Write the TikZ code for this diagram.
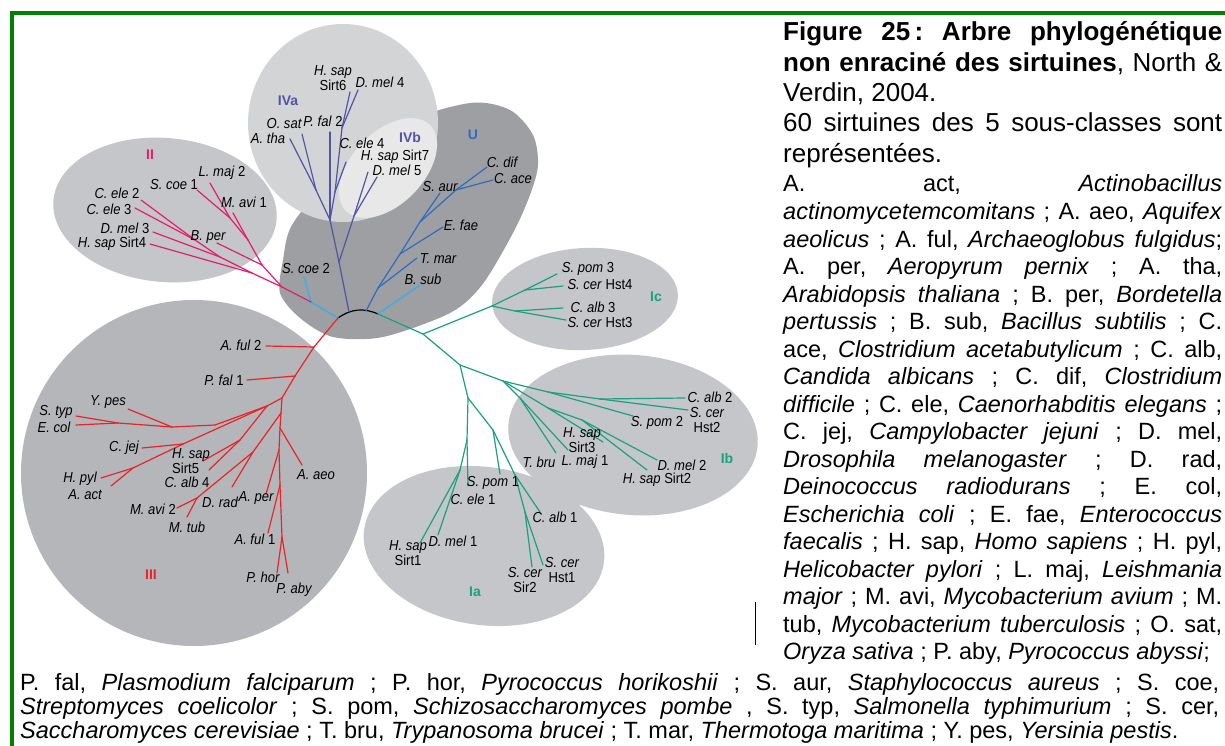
\documentclass[tikz,border=0pt]{standalone}
\usepackage{fontspec}
\setmainfont{Liberation Sans}
\newfontfamily\treefont[FakeStretch=0.9]{Liberation Sans}
\usetikzlibrary{positioning}
\definecolor{framegreen}{RGB}{0,128,0}
\definecolor{cII}{RGB}{226,30,110}
\definecolor{cIII}{RGB}{232,36,40}
\definecolor{cIV}{RGB}{84,84,164}
\definecolor{cU}{RGB}{48,108,190}
\definecolor{cUc}{RGB}{70,172,222}
\definecolor{cI}{RGB}{28,160,128}
\definecolor{gI}{RGB}{197,198,201}
\definecolor{gIII}{RGB}{181,182,186}
\definecolor{gU}{RGB}{158,159,163}
\definecolor{gIVa}{RGB}{211,212,214}
\definecolor{gIVb}{RGB}{232,232,233}
\newcommand\tightjust{\tolerance=10000\relax\hbadness=10000\relax\hyphenpenalty=10000\relax\frenchspacing}
\newcommand\fulljust{\parfillskip=0pt\relax}
\tikzset{
  br/.style={line width=1.2pt, line cap=round},
  IIbr/.style={br, color=cII},
  IIIbr/.style={br, color=cIII},
  IVbr/.style={br, color=cIV},
  Ubr/.style={br, color=cU},
  Ucbr/.style={br, color=cUc, line width=1.6pt},
  Ibr/.style={br, color=cI},
  leaf/.style={font=\treefont\fontsize{14.5}{14.5}\selectfont\itshape, inner sep=0pt, align=center},
  grp/.style={font=\fontsize{14}{14}\selectfont\bfseries, inner sep=0pt},
  caption/.style={inner sep=0pt, anchor=base west, align=justify}
}
\begin{document}
\begin{tikzpicture}[x=1pt,y=-1pt]
\useasboundingbox (0,0) rectangle (1225,746);
\fill[white] (0,0) rectangle (1225,746);
% frame
\fill[framegreen] (9.5,11.5) rectangle (1225,15.5);
\fill[framegreen] (9.5,11.5) rectangle (13.5,746);

% subclass blobs
\fill[gU] plot[smooth cycle] coordinates {(280,293) (283,260) (292,225) (330,180) (400,125) (470,103) (510,110) (533,135) (538,165) (530,195) (513,233) (482,285) (450,313) (383,337) (333,337) (300,318)};
\fill[gIII] (194,473) circle[radius=173];
\fill[gI, rotate around={-5:(165,210)}] (165,210) ellipse[x radius=112, y radius=72];
\fill[gI, rotate around={3:(585,299)}] (585,299) ellipse[x radius=93, y radius=51];
\fill[gI, rotate around={-5:(633,435)}] (633,435) ellipse[x radius=125, y radius=80];
\fill[gI, rotate around={-8:(484,546)}] (484,546) ellipse[x radius=121, y radius=79];
\fill[gIVa] (343,123) ellipse[x radius=95, y radius=99];
\fill[gIVb, rotate around={46:(388,168)}] (388,168) ellipse[x radius=60, y radius=36];

% branch points
\coordinate (rL) at (338,318);
\coordinate (rM1) at (349,312);
\coordinate (rM2) at (366,311);
\coordinate (rR) at (378,314);
\coordinate (s0) at (311,302);
\coordinate (m1) at (282,287);
\coordinate (m2) at (252,273);
\coordinate (m3) at (220,257);
\coordinate (m4) at (195,240);
\coordinate (m5) at (262,265);
\coordinate (m6) at (248,240);
\coordinate (m7) at (230,218);
\coordinate (a1) at (314,347);
\coordinate (a2) at (295,376);
\coordinate (a3) at (282,398);
\coordinate (b1) at (267,406);
\coordinate (b2) at (215,425);
\coordinate (b3) at (172,427);
\coordinate (b4) at (118,423);
\coordinate (c1) at (183,444);
\coordinate (c2) at (133,468);
\coordinate (d1) at (240,440);
\coordinate (e0) at (281,413);
\coordinate (f1) at (253,452);
\coordinate (f2) at (197,498);
\coordinate (g1) at (280,428);
\coordinate (g2) at (279,450);
\coordinate (g3) at (280,485);
\coordinate (g4) at (282,537);
\coordinate (p1) at (339,262);
\coordinate (p2) at (354,216);
\coordinate (p3) at (330,220);
\coordinate (p5) at (316,190);
\coordinate (p6) at (335,192);
\coordinate (p7) at (342,128);
\coordinate (u1) at (378,288);
\coordinate (u2) at (400,254);
\coordinate (u3) at (420,222);
\coordinate (u4) at (456,190);
\coordinate (t1) at (423,334);
\coordinate (ic1) at (492,306);
\coordinate (ic2) at (525,290);
\coordinate (ic3) at (515,311);
\coordinate (t2) at (460,365);
\coordinate (ib1) at (503,381);
\coordinate (ib2) at (548,392);
\coordinate (ib3) at (600,399);
\coordinate (ib5) at (548,408);
\coordinate (ib6) at (582,420);
\coordinate (ib7) at (520,398);
\coordinate (ia1) at (468,398);
\coordinate (ia2) at (467,440);
\coordinate (ia3) at (460,470);
\coordinate (ia4) at (493,430);
\coordinate (ia5) at (515,475);
\coordinate (ia6) at (525,512);

% leaf ends
\coordinate (lHs4) at (150,244);
\coordinate (lDm3) at (153,232);
\coordinate (lCe2) at (141,200);
\coordinate (lCe3) at (135,208);
\coordinate (lBp) at (217,243);
\coordinate (lMa1) at (233,213);
\coordinate (lSc1) at (197,190);
\coordinate (lLm2) at (210,183);
\coordinate (lSc2) at (304,277);
\coordinate (lAf2) at (266,346);
\coordinate (lPf1) at (247,380);
\coordinate (lYp) at (128,409);
\coordinate (lSt) at (76,416);
\coordinate (lEc) at (76,425);
\coordinate (lCj) at (142,448);
\coordinate (lHp) at (101,478);
\coordinate (lAa) at (111,486);
\coordinate (lHs5) at (203,461);
\coordinate (lCa4) at (209,470);
\coordinate (lDr) at (232,487);
\coordinate (lMa2) at (177,508);
\coordinate (lMt) at (187,517);
\coordinate (lAae) at (302,465);
\coordinate (lApe) at (266,494);
\coordinate (lAf1) at (268,533);
\coordinate (lPh) at (277,573);
\coordinate (lPa) at (288,573);
\coordinate (lHs7) at (368,172);
\coordinate (lDm5) at (377,177);
\coordinate (lPf2) at (330,132);
\coordinate (lAt) at (290,139);
\coordinate (lOs) at (302,134);
\coordinate (lCe4) at (346,162);
\coordinate (lHs6) at (350,92);
\coordinate (lDm4) at (358,90);
\coordinate (lTm) at (417,258);
\coordinate (lEf) at (443,227);
\coordinate (lSa) at (440,193);
\coordinate (lCd) at (487,167);
\coordinate (lCa) at (493,180);
\coordinate (lBs) at (420,285);
\coordinate (lSp3) at (557,274);
\coordinate (lSh4) at (563,286);
\coordinate (lCa3) at (563,308);
\coordinate (lSh3) at (566,320);
\coordinate (lCa2) at (685,398);
\coordinate (lSh2) at (688,410);
\coordinate (lSp2) at (633,416);
\coordinate (lHs3) at (603,442);
\coordinate (lDm2) at (657,460);
\coordinate (lHs2) at (647,470);
\coordinate (lTb) at (556,453);
\coordinate (lLm1) at (568,450);
\coordinate (lHs1) at (420,543);
\coordinate (lDm1) at (438,535);
\coordinate (lCe1) at (468,486);
\coordinate (lSp1) at (500,474);
\coordinate (lCa1) at (540,512);
\coordinate (lSh1) at (543,565);
\coordinate (lSs2) at (532,567);

% branches
\draw[line width=1.2pt] (rL) to[bend left=30] (rR);
\foreach \a/\b in {rL/s0, s0/lSc2} \draw[Ucbr] (\a) -- (\b);
\draw[Ucbr] (rR) -- (lBs);
\foreach \a/\b in {s0/m1, m1/m2, m2/lHs4, m2/m3, m3/lDm3, m3/m4, m4/lCe2, m4/lCe3, m1/m5, m5/lBp, m5/m6, m6/lMa1, m6/m7, m7/lSc1, m7/lLm2}
  \draw[IIbr] (\a) -- (\b);
\foreach \a/\b in {rL/a1, a1/lAf2, a1/a2, a2/lPf1, a2/a3, a3/b1, b1/b2, b2/b3, b3/lYp, b3/b4, b4/lSt, b4/lEc, b1/c1, c1/lCj, c1/c2, c2/lHp, c2/lAa, b1/d1, d1/lHs5, d1/lCa4, a3/e0, e0/f1, f1/lDr, f1/f2, f2/lMa2, f2/lMt, e0/g1, g1/lAae, g1/g2, g2/lApe, g2/g3, g3/lAf1, g3/g4, g4/lPh, g4/lPa}
  \draw[IIIbr] (\a) -- (\b);
\foreach \a/\b in {rM1/p1, p1/p2, p2/lHs7, p2/lDm5, p1/p3, p3/lPf2, p3/p5, p5/lAt, p5/lOs, p3/p6, p6/lCe4, p6/p7, p7/lHs6, p7/lDm4}
  \draw[IVbr] (\a) -- (\b);
\foreach \a/\b in {rM2/u1, u1/lTm, u1/u2, u2/lEf, u2/u3, u3/lSa, u3/u4, u4/lCd, u4/lCa}
  \draw[Ubr] (\a) -- (\b);
\foreach \a/\b in {rR/t1, t1/ic1, ic1/ic2, ic2/lSp3, ic2/lSh4, ic1/ic3, ic3/lCa3, ic3/lSh3, t1/t2, t2/ib1, ib1/ib2, ib2/ib3, ib3/lCa2, ib3/lSh2, ib2/lSp2, ib1/ib5, ib5/lHs3, ib5/ib6, ib6/lDm2, ib6/lHs2, ib1/ib7, ib7/lTb, ib7/lLm1, t2/ia1, ia1/ia2, ia2/ia3, ia3/lHs1, ia3/lDm1, ia2/lCe1, ia1/ia4, ia4/lSp1, ia4/ia5, ia5/lCa1, ia5/ia6, ia6/lSh1, ia6/lSs2}
  \draw[Ibr] (\a) -- (\b);

% subclass names
\node[grp, text=cII] (gII) at (150,155) {II};
\node[grp, text=cIII] (gIII) at (151,575) {III};
\node[grp, text=cIV] (gIVa) at (288,101) {IVa};
\node[grp, text=cIV] (gIVb) at (410,137) {IVb};
\node[grp, text=cU] (gU) at (473,135) {U};
\node[grp, text=cI] (gIc) at (656,297) {Ic};
\node[grp, text=cI] (gIb) at (727,458) {Ib};
\node[grp, text=cI] (gIa) at (475,592) {Ia};

% leaf names
\node[leaf] (nCe2) at (117,193) {C. ele \textup{2}};
\node[leaf] (nCe3) at (109,209) {C. ele \textup{3}};
\node[leaf] (nDm3) at (125,228) {D. mel \textup{3}};
\node[leaf] (nHs4) at (112,244) {H. sap \textup{Sirt4}};
\node[leaf] (nSc1) at (174,185) {S. coe \textup{1}};
\node[leaf] (nLm2) at (222,173) {L. maj \textup{2}};
\node[leaf] (nMa1) at (244,202) {M. avi \textup{1}};
\node[leaf] (nBp) at (208,237) {B. per};
\node[leaf] (nSc2) at (306,269) {S. coe \textup{2}};
\node[leaf] (nHs6) at (333,78) {H. sap\\\textup{Sirt6}};
\node[leaf] (nDm4) at (380,82) {D. mel \textup{4}};
\node[leaf] (nOs) at (284,124) {O. sat};
\node[leaf] (nPf2) at (323,121) {P. fal \textup{2}};
\node[leaf] (nAt) at (268,138) {A. tha};
\node[leaf] (nCe4) at (362,143) {C. ele \textup{4}};
\node[leaf] (nHs7) at (395,157) {H. sap \textup{Sirt7}};
\node[leaf] (nDm5) at (397,170) {D. mel \textup{5}};
\node[leaf] (nCd) at (502,162) {C. dif};
\node[leaf] (nCa) at (513,179) {C. ace};
\node[leaf] (nSa) at (440,187) {S. aur};
\node[leaf] (nEf) at (461,225) {E. fae};
\node[leaf] (nTm) at (438,259) {T. mar};
\node[leaf] (nBs) at (423,279) {B. sub};
\node[leaf] (nSp3) at (588,269) {S. pom \textup{3}};
\node[leaf] (nSh4) at (600,285) {S. cer \textup{Hst4}};
\node[leaf] (nCa3) at (593,307) {C. alb \textup{3}};
\node[leaf] (nSh3) at (600,323) {S. cer \textup{Hst3}};
\node[leaf] (nCa2) at (710,397) {C. alb \textup{2}};
\node[leaf] (nSh2) at (707,420) {S. cer\\\textup{Hst2}};
\node[leaf] (nSp2) at (657,423) {S. pom \textup{2}};
\node[leaf] (nHs3) at (582,440) {H. sap\\\textup{Sirt3}};
\node[leaf] (nTb) at (539,462) {T. bru};
\node[leaf] (nLm1) at (585,462) {L. maj \textup{1}};
\node[leaf] (nDm2) at (682,465) {D. mel \textup{2}};
\node[leaf] (nHs2) at (657,480) {H. sap \textup{Sirt2}};
\node[leaf] (nSp1) at (493,483) {S. pom \textup{1}};
\node[leaf] (nCe1) at (473,499) {C. ele \textup{1}};
\node[leaf] (nCa1) at (555,517) {C. alb \textup{1}};
\node[leaf] (nHs1) at (408,553) {H. sap\\\textup{Sirt1}};
\node[leaf] (nDm1) at (453,541) {D. mel \textup{1}};
\node[leaf] (nSh1) at (562,570) {S. cer\\\textup{Hst1}};
\node[leaf] (nSs2) at (525,580) {S. cer\\\textup{Sir2}};
\node[leaf] (nAf2) at (241,345) {A. ful \textup{2}};
\node[leaf] (nPf1) at (224,380) {P. fal \textup{1}};
\node[leaf] (nYp) at (108,402) {Y. pes};
\node[leaf] (nSt) at (56,412) {S. typ};
\node[leaf] (nEc) at (54,427) {E. col};
\node[leaf] (nCj) at (124,448) {C. jej};
\node[leaf, align=left, anchor=west] (nHs5) at (172,461) {H. sap\\\textup{Sirt5}};
\node[leaf] (nCa4) at (187,482) {C. alb \textup{4}};
\node[leaf] (nHp) at (80,479) {H. pyl};
\node[leaf] (nAa) at (85,495) {A. act};
\node[leaf] (nMa2) at (153,509) {M. avi \textup{2}};
\node[leaf] (nMt) at (187,527) {M. tub};
\node[leaf] (nDr) at (220,502) {D. rad};
\node[leaf] (nApe) at (256,498) {A. per};
\node[leaf] (nAae) at (316,475) {A. aeo};
\node[leaf] (nAf1) at (255,539) {A. ful \textup{1}};
\node[leaf] (nPh) at (263,577) {P. hor};
\node[leaf] (nPa) at (294,590) {P. aby};

\draw[line width=0.8pt] (755,602) -- (755,645);

% caption
\node[caption, text width=439pt, font=\fontsize{26}{30.3}\selectfont] (title) at (783,41)
  {\tightjust\textbf{Figure 25\,: Arbre phylogénétique}\linebreak \textbf{non enraciné des sirtuines}, North \&\linebreak Verdin, 2004.\par
   60 sirtuines des 5 sous-classes sont\linebreak représentées.};
\node[caption, text width=439pt, font=\fontsize{23.5}{27.5}\selectfont] (abbrev) at (783,192)
  {\tightjust\fulljust A. act, \textit{Actinobacillus}\linebreak \textit{actinomycetemcomitans} ; A. aeo, \textit{Aquifex}\linebreak \textit{aeolicus} ; A. ful, \textit{Archaeoglobus fulgidus};\linebreak A. per, \textit{Aeropyrum pernix} ; A. tha,\linebreak \textit{Arabidopsis thaliana} ; B. per, \textit{Bordetella}\linebreak \textit{pertussis} ; B. sub, \textit{Bacillus subtilis} ; C.\linebreak ace, \textit{Clostridium acetabutylicum} ; C. alb,\linebreak \textit{Candida albicans} ; C. dif, \textit{Clostridium}\linebreak \textit{difficile} ; C. ele, \textit{Caenorhabditis elegans} ;\linebreak C. jej, \textit{Campylobacter jejuni} ; D. mel,\linebreak \textit{Drosophila melanogaster} ; D. rad,\linebreak \textit{Deinococcus radiodurans} ; E. col,\linebreak \textit{Escherichia coli} ; E. fae, \textit{Enterococcus}\linebreak \textit{faecalis} ; H. sap, \textit{Homo sapiens} ; H. pyl,\linebreak \textit{Helicobacter pylori} ; L. maj, \textit{Leishmania}\linebreak \textit{major} ; M. avi, \textit{Mycobacterium avium} ; M.\linebreak tub, \textit{Mycobacterium tuberculosis} ; O. sat,\linebreak \textit{Oryza sativa} ; P. aby, \textit{Pyrococcus abyssi};};
\node[caption, text width=1199pt, font=\fontsize{23.5}{24}\selectfont] (abbrev2) at (20,690)
  {\tightjust\fulljust P. fal, \textit{Plasmodium falciparum} ; P. hor, \textit{Pyrococcus horikoshii} ; S. aur, \textit{Staphylococcus aureus} ; S. coe,\linebreak \textit{Streptomyces coelicolor} ; S. pom, \textit{Schizosaccharomyces pombe} , S. typ, \textit{Salmonella typhimurium} ; S. cer,\linebreak \textit{Saccharomyces cerevisiae} ; T. bru, \textit{Trypanosoma brucei} ; T. mar, \textit{Thermotoga maritima} ; Y. pes, \textit{Yersinia pestis}.};
\end{tikzpicture}
\end{document}
